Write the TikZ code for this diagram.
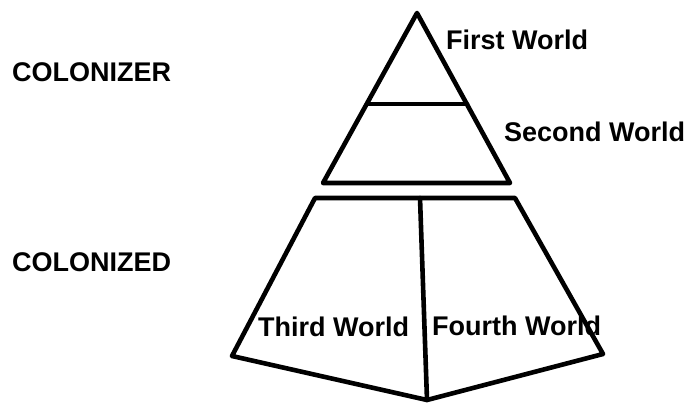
\documentclass[tikz,border=0pt]{standalone}
\usepackage{fontspec}
\setmainfont{Liberation Sans}
\usepackage{xcolor}

\begin{document}
\begin{tikzpicture}[x=1pt, y=-1pt,
		edge/.style={line width=4.6pt, line cap=round, line join=round},
		lbl/.style={anchor=west, inner sep=0pt, font=\bfseries\fontsize{27}{32}\selectfont}]
	\useasboundingbox (0,0) rectangle (692,404);
	% corners of the pyramid
	\coordinate (apex) at (417,13);
	\coordinate (midL) at (368,104);
	\coordinate (midR) at (467,104);
	\coordinate (baseL) at (323,183);
	\coordinate (baseR) at (510,183);
	% corners of the lower part
	\coordinate (topL) at (315,198);
	\coordinate (topR) at (515,198);
	\coordinate (topM) at (420,198);
	\coordinate (botL) at (232,356);
	\coordinate (botR) at (603,354);
	\coordinate (botM) at (427,400);

	\draw[edge] (baseL) -- (apex) -- (baseR) -- cycle;
	\draw[edge] (midL) -- (midR);
	\draw[edge] (topL) -- (topR) -- (botR) -- (botM) -- (botL) -- cycle;
	\draw[edge] (topM) -- (botM);

	\node[lbl] (colonizer) at (12,72) {COLONIZER};
	\node[lbl] (colonized) at (12,262) {COLONIZED};
	\node[lbl] (first) at (446,40) {First World};
	\node[lbl] (second) at (504,132) {Second World};
	\node[lbl] (third) at (258,327) {Third World};
	\node[lbl] (fourth) at (432,326) {Fourth World};
\end{tikzpicture}
\end{document}
